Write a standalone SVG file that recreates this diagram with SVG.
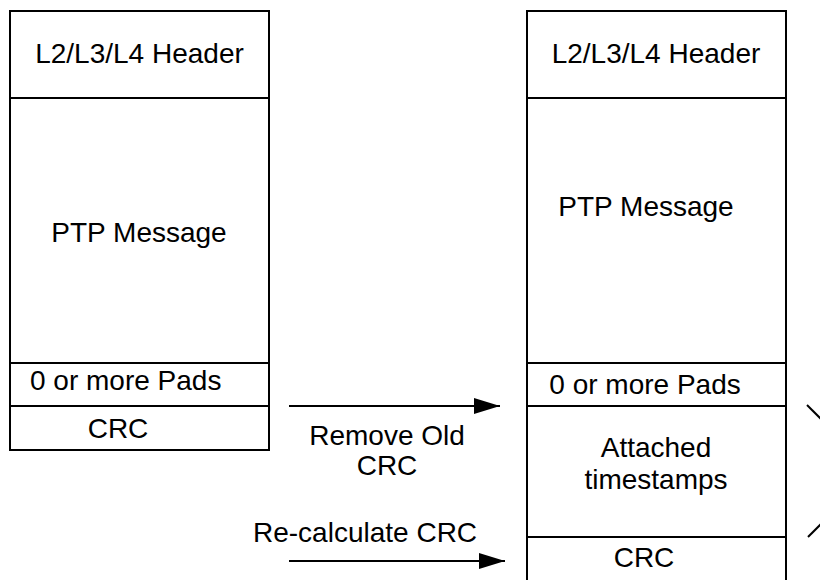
<svg xmlns="http://www.w3.org/2000/svg" width="820" height="580" viewBox="0 0 820 580">
<defs>
<style>
.box{fill:#fff;stroke:#000;stroke-width:2}
.ln{stroke:#000;stroke-width:2;fill:none}
.t{font-family:"Liberation Sans",Arial,sans-serif;font-size:28px;fill:#000}
.c{text-anchor:middle}
</style>
<marker id="ah" markerUnits="userSpaceOnUse" markerWidth="28" markerHeight="20" refX="26" refY="8" orient="auto">
<polygon points="0,0 26,8 0,16" fill="#000"/>
</marker>
</defs>
<rect width="820" height="580" fill="#fff"/>
<g id="left-frame">
<rect class="box" x="10" y="11" width="259" height="439"/>
<line class="ln" x1="10" y1="98" x2="269" y2="98"/>
<line class="ln" x1="10" y1="363" x2="269" y2="363"/>
<line class="ln" x1="10" y1="406" x2="269" y2="406"/>
<text class="t c" x="139.5" y="63">L2/L3/L4 Header</text>
<text class="t c" x="139" y="242">PTP Message</text>
<text class="t" x="30" y="390">0 or more Pads</text>
<text class="t c" x="118" y="438">CRC</text>
</g>
<g id="right-frame">
<path class="ln" d="M527,590 V11 H786 V590"/>
<line class="ln" x1="527" y1="98" x2="786" y2="98"/>
<line class="ln" x1="527" y1="363" x2="786" y2="363"/>
<line class="ln" x1="527" y1="406" x2="786" y2="406"/>
<line class="ln" x1="527" y1="537" x2="786" y2="537"/>
<text class="t c" x="656" y="63">L2/L3/L4 Header</text>
<text class="t c" x="646" y="216">PTP Message</text>
<text class="t c" x="645" y="394">0 or more Pads</text>
<text class="t c" x="656" y="457">Attached</text>
<text class="t c" x="656" y="489">timestamps</text>
<text class="t c" x="644" y="567">CRC</text>
</g>
<g id="connectors">
<line class="ln" x1="289" y1="406" x2="500" y2="406" marker-end="url(#ah)"/>
<line class="ln" x1="289" y1="561" x2="505" y2="561" marker-end="url(#ah)"/>
<line class="ln" x1="807" y1="405" x2="822" y2="420"/>
<line class="ln" x1="808" y1="537" x2="822" y2="523"/>
</g>
<g id="labels">
<text class="t c" x="387" y="445">Remove Old</text>
<text class="t c" x="387" y="475">CRC</text>
<text class="t" x="253" y="542">Re-calculate CRC</text>
</g>
</svg>
